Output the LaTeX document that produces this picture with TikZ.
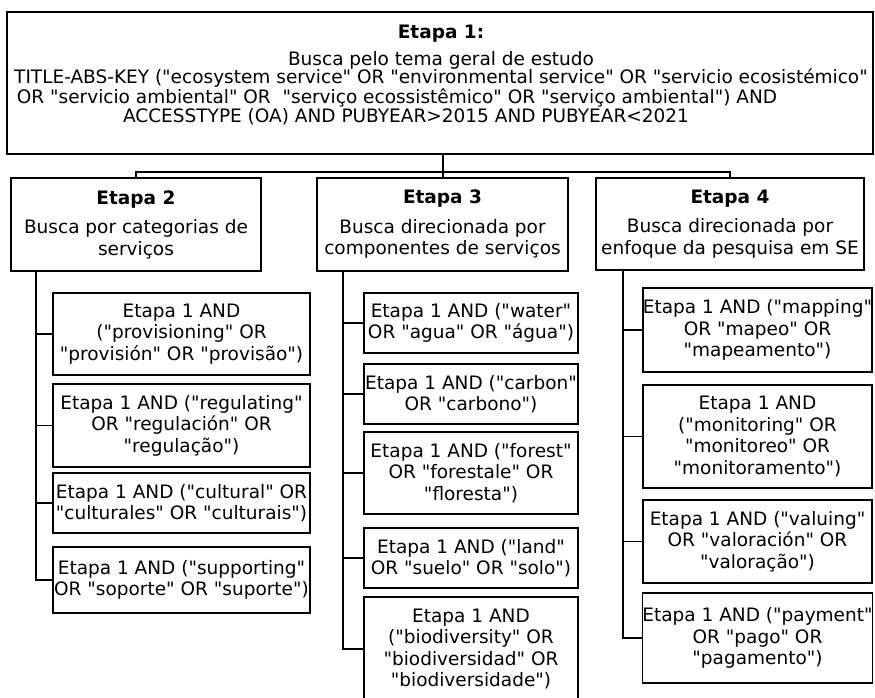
\documentclass[tikz,border=0pt]{standalone}
\usepackage{fontspec}
\setmainfont{DejaVu Sans}[Ligatures=TeXOff]
\newcommand\myfs{\fontsize{18.5}{21.5}\selectfont}
\begin{document}
\begin{tikzpicture}[x=1pt,y=-1pt,
  box/.style={draw, line width=1.6pt, align=center, inner sep=0pt, font=\myfs},
  conn/.style={line width=1.8pt},
  txt/.style={inner sep=0pt, anchor=base, font=\myfs}]
\useasboundingbox (0,0) rectangle (875,697);
% top box
\node[box, minimum width=866pt, minimum height=142pt] (top) at (440,83) {};
\node[txt, font=\myfs\bfseries] (t1) at (441,38) {Etapa 1:};
\node[txt] (t2) at (441,65) {Busca pelo tema geral de estudo};
\node[txt, anchor=base, align=center, font=\fontsize{18.5}{16.5}\selectfont] (t3) at (441,122)
  {TITLE-ABS-KEY ("ecosystem service" OR "environmental service" OR "servicio ecosistémico"\\
   \hspace*{-88pt}OR "servicio ambiental" OR~ "serviço ecossistêmico" OR "serviço ambiental") AND\\
   \hspace*{-70pt}ACCESSTYPE (OA) AND PUBYEAR>2015 AND PUBYEAR<2021};
% level 2
\node[box, minimum width=250pt, minimum height=93pt] (e2) at (136,224.5) {\textbf{Etapa 2}\\[8pt]Busca por categorias de\\serviços};
\node[box, minimum width=251pt, minimum height=93pt] (e3) at (442.5,224.5) {\textbf{Etapa 3}\\[8pt]Busca direcionada por\\componentes de serviços};
\node[box, minimum width=268pt, minimum height=92pt] (e4) at (730,224) {\textbf{Etapa 4}\\[8pt]Busca direcionada por\\enfoque da pesquisa em SE};
% bus
\coordinate (bus) at (443,172);
\draw[conn] (top.south -| bus) -- (e3.north -| bus);
\draw[conn] (e2.north) |- (bus) -| (e4.north);
% column 2
\node[box, minimum width=257pt, minimum height=82pt] (c21) at (181.5,334) {Etapa 1 AND\\("provisioning" OR\\"provisión" OR "provisão")};
\node[box, minimum width=257pt, minimum height=83pt] (c22) at (181.5,425.5) {Etapa 1 AND ("regulating"\\OR "regulación" OR\\"regulação")};
\node[box, minimum width=257pt, minimum height=60pt] (c23) at (181.5,503) {Etapa 1 AND ("cultural" OR\\"culturales" OR "culturais")};
\node[box, minimum width=257pt, minimum height=66pt] (c24) at (181.5,580) {Etapa 1 AND ("supporting"\\OR "soporte" OR "suporte")};
% column 3
\node[box, minimum width=214pt, minimum height=60pt] (c31) at (471,323) {Etapa 1 AND ("water"\\OR "agua" OR "água")};
\node[box, minimum width=214pt, minimum height=60pt] (c32) at (471,394) {Etapa 1 AND ("carbon"\\OR "carbono")};
\node[box, minimum width=214pt, minimum height=82pt] (c33) at (471,473) {Etapa 1 AND ("forest"\\OR "forestale" OR\\"floresta")};
\node[box, minimum width=214pt, minimum height=60pt] (c34) at (471,558) {Etapa 1 AND ("land"\\OR "suelo" OR "solo")};
\node[box, minimum width=214pt, minimum height=104pt] (c35) at (471,649) {Etapa 1 AND\\("biodiversity" OR\\"biodiversidad" OR\\"biodiversidade")};
% column 4
\node[box, minimum width=229pt, minimum height=84pt] (c41) at (757.5,330) {Etapa 1 AND ("mapping"\\OR "mapeo" OR\\"mapeamento")};
\node[box, minimum width=229pt, minimum height=103pt] (c42) at (757.5,436.5) {Etapa 1 AND\\("monitoring" OR\\"monitoreo" OR\\"monitoramento")};
\node[box, minimum width=229pt, minimum height=83pt] (c43) at (757.5,541.5) {Etapa 1 AND ("valuing"\\OR "valoración" OR\\"valoração")};
\node[box, minimum width=229pt, minimum height=90pt] (c44) at (757.5,638) {Etapa 1 AND ("payment"\\OR "pago" OR\\"pagamento")};
% trunks
\coordinate (k2) at (36,0);
\coordinate (k3) at (343,0);
\coordinate (k4) at (623,0);
\draw[conn] (e2.south -| k2) |- (c24.west);
\draw[conn] (e2.south -| k2) |- (c21.west);
\draw[conn] (e2.south -| k2) |- (c22.west);
\draw[conn] (e2.south -| k2) |- (c23.west);
\draw[conn] (e3.south -| k3) |- (c35.west);
\draw[conn] (e3.south -| k3) |- (c31.west);
\draw[conn] (e3.south -| k3) |- (c32.west);
\draw[conn] (e3.south -| k3) |- (c33.west);
\draw[conn] (e3.south -| k3) |- (c34.west);
\draw[conn] (e4.south -| k4) |- (c44.west);
\draw[conn] (e4.south -| k4) |- (c41.west);
\draw[conn] (e4.south -| k4) |- (c42.west);
\draw[conn] (e4.south -| k4) |- (c43.west);
\end{tikzpicture}
\end{document}
